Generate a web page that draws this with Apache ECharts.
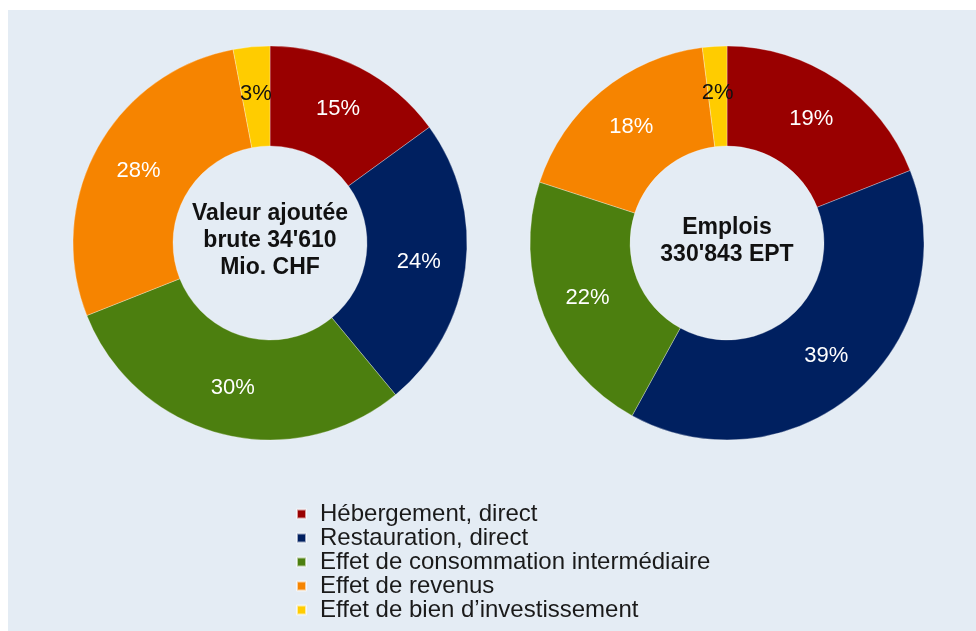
<!DOCTYPE html>
<html>
<head>
<meta charset="utf-8">
<script src="https://cdn.jsdelivr.net/npm/echarts@6/dist/echarts.min.js"></script>
<style>
  body { margin: 0; background: #ffffff; }
  #main { position: absolute; left: 8px; top: 10px; width: 968px; height: 621px; }
</style>
</head>
<body>
<div id="main"></div>
<script>
var categories = ["Hébergement, direct", "Restauration, direct", "Effet de consommation intermédiaire", "Effet de revenus", "Effet de bien d’investissement"];
var valeurAjoutee = [15, 24, 30, 28, 3];
var emplois = [19, 39, 22, 18, 2];
var colors = ["#990000", "#002060", "#4c7f0f", "#f68400", "#ffcc00"];
var labelColors = ["#ffffff", "#ffffff", "#ffffff", "#ffffff", "#111111"];

var chartDom = document.getElementById('main');
var myChart = echarts.init(chartDom);
var option;

function toData(values) {
  return values.map(function (v, i) {
    return {
      name: categories[i],
      value: v,
      label: { color: labelColors[i] }
    };
  });
}

var pieBase = {
  type: 'pie',
  radius: [97, 197],
  startAngle: 90,
  clockwise: true,
  avoidLabelOverlap: false,
  silent: true,
  itemStyle: { borderColor: 'rgba(255,255,255,0.6)', borderWidth: 0.5 },
  label: {
    show: true,
    position: 'inside',
    formatter: '{c}%',
    fontFamily: 'Liberation Sans, Arial, sans-serif',
    fontSize: 22
  },
  labelLine: { show: false }
};

option = {
  backgroundColor: '#e4ecf4',
  animation: false,
  color: colors,
  legend: {
    orient: 'vertical',
    left: 283,
    top: 487,
    height: 130,
    itemGap: 0,
    itemWidth: 9,
    itemHeight: 9,
    icon: 'rect',
    data: categories,
    textStyle: {
      fontFamily: 'Liberation Sans, Arial, sans-serif',
      fontSize: 24,
      color: '#1a1a1a',
      lineHeight: 24,
      padding: [0, 0, 0, 9]
    }
  },
  graphic: [
    {
      type: 'text',
      x: 262,
      y: 231,
      style: {
        text: "Valeur ajoutée\nbrute 34'610\nMio. CHF",
        fontFamily: 'Liberation Sans, Arial, sans-serif',
        fontWeight: 'bold',
        fontSize: 23,
        lineHeight: 27,
        fill: '#111111',
        textAlign: 'center',
        textVerticalAlign: 'middle'
      }
    },
    {
      type: 'text',
      x: 719,
      y: 231,
      style: {
        text: "Emplois\n330'843 EPT",
        fontFamily: 'Liberation Sans, Arial, sans-serif',
        fontWeight: 'bold',
        fontSize: 23,
        lineHeight: 27,
        fill: '#111111',
        textAlign: 'center',
        textVerticalAlign: 'middle'
      }
    }
  ],
  series: [
    Object.assign({}, pieBase, {
      name: 'Valeur ajoutée',
      center: [262, 233],
      data: toData(valeurAjoutee)
    }),
    Object.assign({}, pieBase, {
      name: 'Emplois',
      center: [719, 233],
      data: toData(emplois)
    })
  ]
};

option && myChart.setOption(option);
window.addEventListener("resize", function() {
  myChart.resize();
});
</script>
</body>
</html>
